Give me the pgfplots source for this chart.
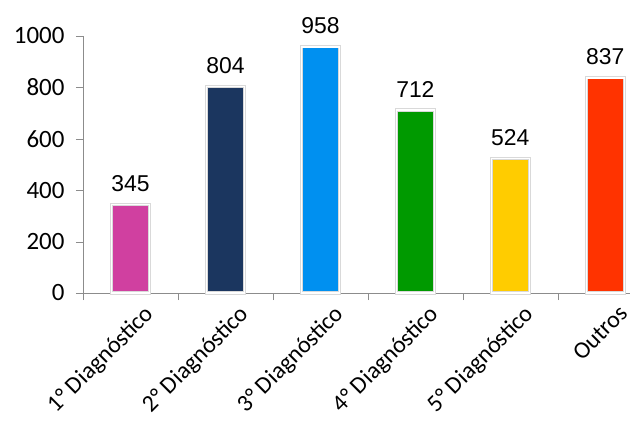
\documentclass[border=0pt]{standalone}
\usepackage{pgfplots}
\pgfplotsset{compat=1.18}
\usepackage{fontspec}
\setmainfont{Carlito}
\newfontfamily\valfont{Liberation Sans}
\definecolor{c1}{RGB}{208,64,160}
\definecolor{c2}{RGB}{27,54,95}
\definecolor{c3}{RGB}{0,144,240}
\definecolor{c4}{RGB}{0,154,0}
\definecolor{c5}{RGB}{255,204,0}
\definecolor{c6}{RGB}{255,51,0}
\definecolor{axgray}{RGB}{140,140,140}
\begin{document}
\begin{tikzpicture}
\useasboundingbox (-83bp,-139bp) rectangle (547bp,293bp);
\begin{axis}[
  at={(0,0)}, anchor=south west,
  width=547bp, height=257bp, scale only axis,
  xmin=-0.5, xmax=5.26, ymin=0, ymax=1000,
  axis x line=bottom, axis y line=left,
  axis line style={axgray, -},
  x axis line style={-}, y axis line style={-},
  ytick={0,200,...,1000},
  xtick={0,1,2,3,4,5},
  xticklabels={1° Diagnóstico,2° Diagnóstico,3° Diagnóstico,4° Diagnóstico,5° Diagnóstico,Outros},
  minor xtick={-0.5,0.5,1.5,2.5,3.5,4.5},
  major x tick style={draw=none},
  minor x tick style={axgray},
  y tick style={axgray},
  tick align=outside,
  major tick length=7bp, minor tick length=7bp,
  /pgf/number format/assume math mode=true,
  /pgf/number format/1000 sep={},
  scaled y ticks=false,
  yticklabel style={font=\fontsize{25}{30}\selectfont, xshift=-8bp},
  xticklabel style={font=\fontsize{24}{28}\selectfont, rotate=45, anchor=north east, xshift=10bp, yshift=-8bp},
  ybar, bar width=38bp, bar shift=0pt,
  nodes near coords,
  every node near coord/.append style={font=\valfont\fontsize{23}{27}\selectfont, black, yshift=9bp},
  every axis plot/.append style={draw=gray!30, double=white, double distance=1.6bp, line width=0.8bp},
  clip=false,
]
\addplot[fill=c1] coordinates {(0,345)};
\addplot[fill=c2] coordinates {(1,804)};
\addplot[fill=c3] coordinates {(2,958)};
\addplot[fill=c4] coordinates {(3,712)};
\addplot[fill=c5] coordinates {(4,524)};
\addplot[fill=c6] coordinates {(5,837)};
\end{axis}
\end{tikzpicture}
\end{document}
